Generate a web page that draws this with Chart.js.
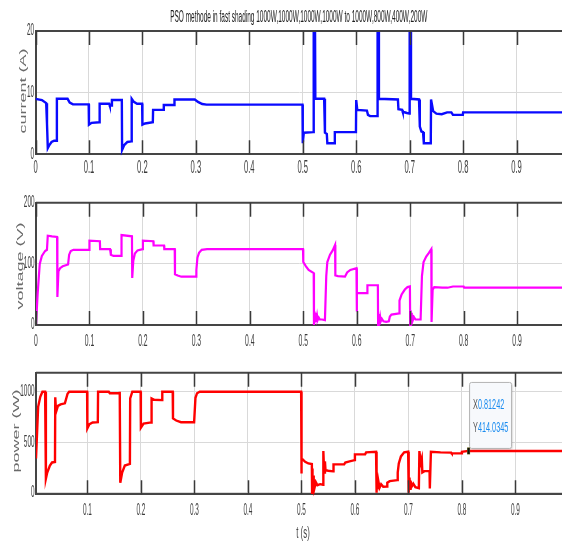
<!DOCTYPE html>
<html>
<head>
<meta charset="utf-8">
<script src="https://cdn.jsdelivr.net/npm/chart.js@4.4.0/dist/chart.umd.min.js"></script>
<style>
  html, body { margin: 0; padding: 0; background: #fff; }
  #wrap { position: relative; width: 562px; height: 541px; }
  #wrap canvas { position: absolute; left: 0; top: 0; }
</style>
</head>
<body>
<div id="wrap">
  <canvas id="cur" width="562" height="541"></canvas>
  <canvas id="volt" width="562" height="541"></canvas>
  <canvas id="pow" width="562" height="541"></canvas>
</div>
<script>
// time axis ticks (s)
const timeTicks = [0, 0.1, 0.2, 0.3, 0.4, 0.5, 0.6, 0.7, 0.8, 0.9];
const curTicks = [0, 10, 20];
const voltTicks = [0, 100, 200];
const powTicks = [0, 500, 1000];

// PV current (A)
const curT = [0, 0.012, 0.02, 0.0215, 0.023, 0.026, 0.03, 0.035, 0.0395, 0.04, 0.06, 0.064, 0.07, 0.0995,
  0.1, 0.105, 0.1195, 0.12, 0.138, 0.139, 0.1425, 0.143, 0.1615, 0.162, 0.166, 0.172, 0.1795,
  0.18, 0.184, 0.19, 0.1995, 0.2, 0.205, 0.2195, 0.22, 0.2395, 0.24, 0.2595, 0.26, 0.298, 0.304, 0.312, 0.32, 0.4995,
  0.5, 0.502, 0.5195, 0.5205, 0.5225, 0.5235, 0.54, 0.5415, 0.545, 0.546, 0.5595, 0.56, 0.5995,
  0.6, 0.602, 0.62, 0.622, 0.626, 0.6395, 0.64, 0.6415, 0.6425, 0.678, 0.679, 0.686, 0.687, 0.695, 0.6995,
  0.7, 0.7015, 0.7025, 0.7175, 0.719, 0.722, 0.725, 0.7265, 0.7395, 0.74, 0.744, 0.75, 0.76, 0.77, 0.778, 0.781, 0.7995,
  0.8, 0.99];
const curA = [9.0, 8.8, 8.3, 5.0, 1.0, 1.5, 2.0, 2.2, 2.2, 9.0, 9.0, 8.4, 8.1, 8.1,
  4.8, 5.1, 5.2, 8.2, 8.2, 7.9, 7.9, 8.8, 8.8, 0.7, 1.5, 2.0, 2.1,
  9.0, 8.5, 8.2, 8.2, 4.8, 5.0, 5.2, 7.2, 7.2, 8.0, 8.0, 8.9, 8.9, 8.5, 8.15, 8.05, 8.05,
  1.8, 3.5, 3.6, 30, 30, 9.0, 9.0, 3.5, 3.3, 1.8, 1.8, 3.6, 3.6,
  8.8, 7.2, 7.1, 6.4, 6.2, 6.2, 30, 30, 9.0, 8.9, 7.3, 7.2, 6.9, 6.7, 6.6,
  30, 30, 9.0, 8.9, 4.5, 3.7, 3.6, 1.8, 1.8, 8.9, 7.0, 6.6, 6.5, 6.8, 6.8, 6.4, 6.4,
  6.8, 6.8];

// PV voltage (V)
const voltT = [0, 0.003, 0.007, 0.011, 0.017, 0.0205, 0.022, 0.03, 0.0395, 0.04, 0.042, 0.045, 0.05, 0.06, 0.062, 0.065, 0.07, 0.0995,
  0.1, 0.1195, 0.12, 0.1385, 0.14, 0.145, 0.1595, 0.16, 0.1795, 0.18, 0.182, 0.185, 0.19, 0.1995,
  0.2, 0.2195, 0.22, 0.2395, 0.24, 0.2595, 0.26, 0.265, 0.272, 0.2995, 0.3, 0.302, 0.305, 0.31, 0.32, 0.4995,
  0.5, 0.505, 0.51, 0.5195, 0.52, 0.5205, 0.521, 0.522, 0.523, 0.524, 0.525, 0.526, 0.527, 0.529, 0.531, 0.535, 0.5405,
  0.543, 0.545, 0.55, 0.555, 0.5595, 0.56, 0.565, 0.578, 0.582, 0.588, 0.5995,
  0.6, 0.6005, 0.6195, 0.62, 0.6395, 0.64, 0.6405, 0.641, 0.642, 0.643, 0.644, 0.645, 0.647, 0.65, 0.655, 0.66,
  0.662, 0.665, 0.6795, 0.68, 0.684, 0.69, 0.695, 0.6995,
  0.7, 0.7005, 0.701, 0.702, 0.703, 0.704, 0.705, 0.707, 0.71, 0.7195, 0.722, 0.725, 0.73, 0.735, 0.7395,
  0.74, 0.742, 0.745, 0.76, 0.77, 0.78, 0.8, 0.801, 0.99];
const voltV = [0, 50, 100, 113, 121, 123, 146, 145, 144, 46, 88, 93, 96, 99, 115, 121, 123, 123,
  138, 137, 124, 124, 115, 113, 113, 147, 145, 77, 105, 117, 122, 124,
  138, 137, 130, 130, 124, 124, 83, 81, 79, 79, 90, 110, 118, 123, 124, 124,
  103, 96, 90, 85, 0, 22, 3, 20, 5, 17, 7, 14, 8, 12, 9, 9, 8,
  80, 103, 115, 122, 131, 81, 80, 79, 86, 90, 93,
  22, 52, 52, 65, 65, 0, 18, 3, 15, 5, 12, 6, 10, 6, 5, 6,
  14, 17, 19, 40, 50, 58, 62, 63,
  0, 24, 4, 20, 6, 16, 8, 13, 9, 9, 80, 103, 112, 118, 124,
  5, 58, 62, 61, 61, 63, 63, 61, 61];

// PV power (W)
const powT = [0.004, 0.008, 0.012, 0.016, 0.021, 0.0225, 0.025, 0.03, 0.034, 0.0395, 0.04, 0.0415, 0.045, 0.05, 0.058, 0.063, 0.066, 0.0995,
  0.1, 0.104, 0.11, 0.1195, 0.12, 0.14, 0.142, 0.1595, 0.1605, 0.1615, 0.165, 0.17, 0.1795,
  0.18, 0.184, 0.1995, 0.2, 0.205, 0.2195, 0.22, 0.225, 0.2395, 0.24, 0.2595, 0.26, 0.266, 0.275, 0.2995,
  0.302, 0.305, 0.31, 0.4995,
  0.5, 0.5005, 0.5025, 0.507, 0.513, 0.5195, 0.52, 0.5205, 0.521, 0.522, 0.523, 0.524, 0.525, 0.527, 0.53, 0.535, 0.5405,
  0.541, 0.5425, 0.544, 0.545, 0.55, 0.5595, 0.56, 0.58, 0.582, 0.59, 0.5995,
  0.6, 0.619, 0.621, 0.6395, 0.64, 0.6405, 0.641, 0.642, 0.643, 0.644, 0.646, 0.649, 0.653, 0.66,
  0.6605, 0.665, 0.6795, 0.68, 0.682, 0.686, 0.692, 0.6995,
  0.7, 0.7005, 0.701, 0.702, 0.703, 0.704, 0.706, 0.709, 0.713, 0.7195, 0.7205, 0.723, 0.725, 0.726, 0.73, 0.7395,
  0.74, 0.742, 0.76, 0.78, 0.781, 0.7995, 0.8, 0.81242, 0.99];
const powW = [340, 850, 950, 1000, 1000, 140, 200, 270, 300, 305, 944, 800, 860, 875, 885, 980, 1000, 1000,
  637, 680, 695, 698, 1000, 1000, 985, 985, 1000, 100, 200, 270, 285,
  934, 1000, 1000, 644, 685, 696, 934, 920, 917, 1000, 1000, 736, 715, 698, 698,
  940, 985, 1000, 1000,
  191, 330, 330, 307, 290, 284, 0, 240, 20, 170, 40, 130, 60, 105, 75, 85, 80,
  413, 200, 310, 225, 218, 212, 281, 282, 300, 310, 323,
  380, 380, 400, 406, 0, 170, 20, 140, 35, 110, 50, 85, 60, 62,
  100, 115, 125, 200, 290, 360, 400, 406,
  0, 180, 25, 150, 40, 120, 60, 90, 55, 45, 413, 300, 340, 201, 214, 214,
  43, 406, 400, 397, 390, 390, 406, 414.0345, 414.0345];

// data tip shown on the power trace
const tipX = [0.81242];
const tipY = [414.0345];

const chartTitle = 'PSO methode in fast shading 1000W,1000W,1000W,1000W to 1000W,800W,400W,200W';

const W = 541;

// draws text squeezed horizontally, like the stretched matlab figure
function narrowText(ctx, text, x, y, sx, align) {
  ctx.save();
  ctx.translate(x, y);
  ctx.scale(sx, 1);
  ctx.textAlign = align || 'center';
  ctx.textBaseline = 'middle';
  ctx.fillText(text, 0, 0);
  ctx.restore();
}

function fmtTick(v) {
  return v === 0 ? '0' : String(Math.round(v * 10) / 10);
}

const matlabAxes = {
  id: 'matlabAxes',
  afterDraw(chart, args, o) {
    const ctx = chart.ctx;
    const a = chart.chartArea;
    const xs = chart.scales.x, ys = chart.scales.y;
    ctx.save();
    // top box edge
    ctx.strokeStyle = '#454545';
    ctx.lineWidth = 2;
    ctx.beginPath();
    ctx.moveTo(a.left, a.top);
    ctx.lineTo(a.right, a.top);
    ctx.stroke();
    // inward tick marks top and bottom
    ctx.lineWidth = 1.5;
    ctx.strokeStyle = '#3a3a3a';
    timeTicks.forEach(v => {
      if (v < xs.min || v > xs.max) return;
      const px = Math.round(xs.getPixelForValue(v)) + 0.5;
      ctx.beginPath();
      ctx.moveTo(px, a.top);
      ctx.lineTo(px, a.top + 14);
      ctx.moveTo(px, a.bottom - 14);
      ctx.lineTo(px, a.bottom);
      ctx.stroke();
    });
    // tick labels
    ctx.fillStyle = '#3c3c3c';
    ctx.font = o.xFont + 'px "Liberation Sans", Arial, sans-serif';
    timeTicks.forEach(v => {
      if (v < xs.min || v > xs.max) return;
      narrowText(ctx, fmtTick(v), xs.getPixelForValue(v), a.bottom + o.xLabelGap, 0.4);
    });
    ctx.font = '16px "Liberation Sans", Arial, sans-serif';
    o.yTicks.forEach(v => {
      narrowText(ctx, String(v), a.left - 1.5, ys.getPixelForValue(v), 0.4, 'right');
    });
    // rotated axis name
    ctx.fillStyle = '#6a6a6a';
    ctx.font = '18px "Liberation Sans", Arial, sans-serif';
    ctx.save();
    ctx.translate(o.nameX, o.nameY);
    ctx.rotate(-Math.PI / 2);
    ctx.scale(1, 0.55);
    ctx.textAlign = 'center';
    ctx.textBaseline = 'middle';
    ctx.fillText(o.name, 0, 0);
    ctx.restore();

    if (o.title) {
      ctx.fillStyle = '#202020';
      ctx.font = '16px "Liberation Sans", Arial, sans-serif';
      narrowText(ctx, o.title, (a.left + a.right) / 2, 18, 0.405);
    }
    if (o.xName) {
      ctx.fillStyle = '#444';
      ctx.font = '17px "Liberation Sans", Arial, sans-serif';
      narrowText(ctx, o.xName, 303, 533, 0.46);
    }
    if (o.tip) {
      const mx = xs.getPixelForValue(tipX[0]);
      const my = ys.getPixelForValue(tipY[0]);
      const bx = mx + 1, by = my - 68.5, bw = 42, bh = 66;
      ctx.shadowColor = 'rgba(0,0,0,0.18)';
      ctx.shadowBlur = 2;
      ctx.shadowOffsetX = 1;
      ctx.shadowOffsetY = 1;
      ctx.fillStyle = '#f7f9fc';
      ctx.beginPath();
      ctx.roundRect(bx, by, bw, bh, 2);
      ctx.fill();
      ctx.shadowColor = 'transparent';
      ctx.strokeStyle = '#b4b4b4';
      ctx.lineWidth = 1;
      ctx.stroke();
      ctx.font = '14px "Liberation Sans", Arial, sans-serif';
      const sx = 0.52;
      const lines = [['X', tipX[0].toFixed(5)], ['Y', tipY[0].toFixed(4)]];
      lines.forEach((ln, i) => {
        const ty = my - 45.5 + i * 22.5;
        const tx = mx + 4.5;
        ctx.fillStyle = '#555';
        narrowText(ctx, ln[0], tx, ty, sx, 'left');
        const w = ctx.measureText(ln[0]).width * sx;
        ctx.fillStyle = '#1a8cf0';
        narrowText(ctx, ln[1], tx + w, ty, sx, 'left');
      });
      // data cursor marker
      ctx.fillStyle = '#6b6b20';
      ctx.fillRect(mx - 1.5, my - 3.5, 3, 7);
      ctx.fillStyle = '#111';
      ctx.fillRect(mx - 1, my - 3, 2, 6);
    }
    ctx.restore();
  }
};

function makePanel(id, p) {
  const pts = p.t.map((t, i) => ({ x: t, y: p.v[i] }));
  return new Chart(document.getElementById(id).getContext('2d'), {
    type: 'line',
    data: {
      datasets: [{
        data: pts,
        borderColor: p.color,
        borderWidth: p.lw,
        pointRadius: 0,
        fill: false,
        tension: 0,
        clip: { left: 0, top: 0, right: 0, bottom: 2 }
      }]
    },
    options: {
      responsive: false,
      animation: false,
      events: [],
      layout: { padding: { left: p.left, top: p.top, right: 0, bottom: W - p.bottom } },
      scales: {
        x: {
          type: 'linear',
          min: p.xMin,
          max: p.xMax,
          afterBuildTicks: s => { s.ticks = timeTicks.filter(v => v >= p.xMin).map(v => ({ value: v })); },
          afterFit: s => { s.height = 0; },
          ticks: { display: false },
          grid: { color: '#d9d9d9', lineWidth: 1, drawTicks: false },
          border: { display: true, color: '#454545', width: 2 }
        },
        y: {
          min: p.yMin,
          max: p.yMax,
          afterBuildTicks: s => { s.ticks = p.yTicks.map(v => ({ value: v })); },
          afterFit: s => { s.width = 0; },
          ticks: { display: false },
          grid: { color: '#d9d9d9', lineWidth: 1, drawTicks: false },
          border: { display: true, color: '#454545', width: 2 }
        }
      },
      plugins: {
        legend: { display: false },
        tooltip: { enabled: false },
        matlabAxes: {
          yTicks: p.yTicks, name: p.name, nameX: p.nameX, nameY: p.nameY,
          xFont: p.xFont, xLabelGap: p.xLabelGap,
          title: p.title, xName: p.xName, tip: p.tip
        }
      }
    },
    plugins: [matlabAxes]
  });
}

makePanel('cur', {
  t: curT, v: curA, color: '#0a0aff', lw: 2.4,
  left: 35.5, top: 31, bottom: 154.3, xMin: 0, xMax: 0.985, yMin: 0, yMax: 20, yTicks: curTicks,
  name: 'current (A)', nameX: 23, nameY: 91, xFont: 19, xLabelGap: 13, title: chartTitle
});
makePanel('volt', {
  t: voltT, v: voltV, color: '#ff00ff', lw: 2.2,
  left: 36, top: 202.7, bottom: 325, xMin: 0, xMax: 0.984, yMin: 0, yMax: 200, yTicks: voltTicks,
  name: 'voltage (V)', nameX: 20.5, nameY: 266, xFont: 17, xLabelGap: 16.5
});
makePanel('pow', {
  t: powT, v: powW, color: '#ff0000', lw: 2.4,
  left: 36, top: 372.7, bottom: 494.3, xMin: 0.004, xMax: 0.987, yMin: -15, yMax: 1188, yTicks: powTicks,
  name: 'power (W)', nameX: 16, nameY: 431, xFont: 16, xLabelGap: 16.5, xName: 't (s)', tip: true
});
</script>
</body>
</html>
